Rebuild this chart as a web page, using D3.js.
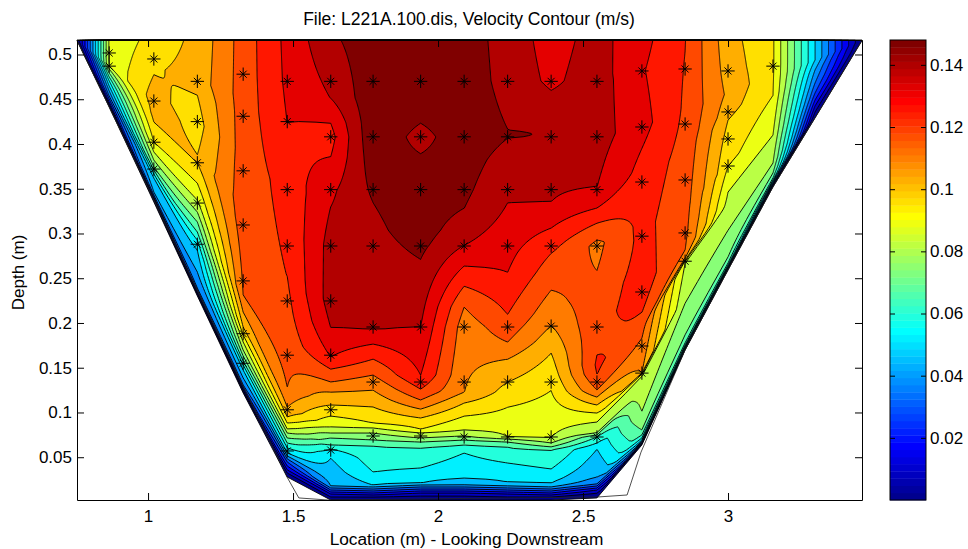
<!DOCTYPE html>
<html>
<head>
<meta charset="utf-8">
<script src="https://cdn.jsdelivr.net/npm/d3@7"></script>
<style>
html,body{margin:0;padding:0;background:#fff}
svg{display:block}
text{font-family:"Liberation Sans",Arial,sans-serif;fill:#000}
</style>
</head>
<body>
<svg id="c" width="968" height="549"></svg>
<script>
// ---------- data ----------
const chartTitle = "File: L221A.100.dis, Velocity Contour (m/s)";
const xLabel = "Location (m) - Looking Downstream";
const yLabel = "Depth (m)";
const xTicks = [1, 1.5, 2, 2.5, 3];
const yTicks = [0.05, 0.1, 0.15, 0.2, 0.25, 0.3, 0.35, 0.4, 0.45, 0.5];
const barTicks = [0.02, 0.04, 0.06, 0.08, 0.1, 0.12, 0.14];
const speedMax = 0.148;
const bandCount = 21;

const stationX = [0.755, 0.866, 1.02, 1.17, 1.328, 1.48, 1.63, 1.776, 1.94, 2.09, 2.24, 2.39, 2.548, 2.703, 2.852, 3.0, 3.155, 3.3, 3.462];

const stationDepth = [
 [.516,.5155],
 [.516,.4939,.4872,.4838,.4793,.4749,.4704,.4648,.4592,.4536,.4503,.4469,.4447,.443,.4413],
 [.516,.4939,.4771,.4492,.4324,.4246,.4022,.3911,.3821,.3743,.3709,.3665,.362,.3464,.343,.3408,.3397,.3385,.3374,.3352],
 [.516,.4704,.4548,.4246,.3877,.3832,.3788,.3564,.3374,.324,.3129,.3017,.2927,.2816,.257,.2391,.2369,.2352,.2335,.2319,.2302],
 [.516,.4313,.3698,.3095,.2469,.2313,.2123,.1955,.1866,.1788,.1698,.1631,.1575,.1531,.1475,.1386,.1307,.1285,.1268,.1252,.1235,.1218],
 [.516,.4704,.4246,.3486,.2536,.1922,.1285,.1062,.095,.0883,.0816,.0771,.0715,.0659,.0604,.0548,.0514,.0481,.0447,.0402,.0358,.0324,.0279],
 [.516,.4704,.4514,.4235,.4078,.3855,.3486,.3285,.286,.2246,.1955,.162,.1486,.1341,.1229,.1084,.0961,.0838,.0771,.0715,.0637,.0592,.0492,.0179,.0157,.0134,.0112,.009,.0056,.0022],
 [.516,.4078,.3352,.2704,.1933,.1765,.1598,.1419,.1251,.1062,.0883,.0827,.0771,.0693,.0626,.0335,.019,.0168,.0145,.0123,.0101,.0078,.0056,.0022],
 [.516,.4704,.4235,.4078,.3888,.3486,.3039,.2715,.1966,.1419,.1263,.114,.1039,.0939,.0816,.0771,.0715,.067,.0604,.038,.0212,.019,.0168,.0145,.0123,.0101,.0067,.0022],
 [.516,.4078,.3486,.3285,.2872,.2637,.2413,.2179,.1955,.1229,.1106,.0961,.0805,.0738,.0693,.0637,.0548,.0268,.019,.0168,.0145,.0123,.0101,.0067,.0022],
 [.516,.4704,.4156,.4112,.4067,.3821,.3352,.257,.2101,.1788,.1598,.1341,.1062,.0726,.0704,.067,.0614,.0436,.0223,.0179,.0157,.0134,.0112,.009,.0056,.0022],
 [.516,.4704,.4592,.4078,.3363,.3062,.2782,.2369,.1978,.1665,.1251,.0715,.066,.0615,.0581,.0369,.0212,.0168,.0145,.0123,.0101,.0078,.0056,.0022],
 [.516,.4704,.4078,.3531,.3285,.3117,.2927,.286,.2581,.2257,.181,.1631,.1531,.143,.1341,.1252,.1173,.1084,.0995,.0894,.0771,.0749,.0726,.0659,.0592,.0279,.0201,.0179,.0156,.0134,.01,.0045],
 [.516,.4816,.419,.3955,.3575,.2972,.2346,.2123,.1833,.1453,.1442,.143,.1408,.1017,.0805,.0749,.0715,.0693,.0682,.0671,.0659,.0648,.0637],
 [.516,.4838,.4223,.3598,.3006,.2816,.2726,.2704,.2693,.267,.2224,.1866,.1777,.1754,.1743,.1732,.172,.1709,.1698],
 [.516,.4816,.457,.4358,.4268,.4056,.3777,.3754,.3464,.3039,.2737,.267,.2648,.2637,.2626,.2615,.2603,.2592],
 [.516,.4872,.4548,.4101,.3788,.3676,.362,.3598,.3587,.3575,.3564,.3553,.3542,.352],
 [.516,.4939,.4827,.4682,.457,.4492,.4425,.4358,.4291],
 [.516,.5155]
];

const stationSpeed = [
 [0,0],
 [.0855,.0855,.0846,.0776,.0705,.0635,.0564,.0494,.0423,.0353,.0282,.0212,.0141,.0071,0],
 [.0946,.097,.0987,.1015,.1005,.0987,.0917,.0846,.0776,.0705,.0635,.0564,.0494,.0423,.0353,.0282,.0212,.0141,.0071,0],
 [.1005,.1015,.0987,.0956,.0987,.0995,.0987,.0917,.0846,.0776,.0705,.0635,.0564,.0494,.0423,.0353,.0282,.0212,.0141,.0071,0],
 [.1159,.116,.1165,.1165,.1135,.1128,.1058,.0987,.0917,.0846,.0776,.0705,.0635,.0564,.0494,.0423,.0353,.0282,.0212,.0141,.0071,0],
 [.1287,.1282,.1269,.122,.1199,.1165,.1128,.1058,.0987,.0917,.0846,.0776,.0705,.0635,.0564,.0494,.0423,.0353,.0282,.0212,.0141,.0071,0],
 [.1395,.1355,.134,.1269,.1245,.1269,.1325,.134,.1365,.137,.134,.1269,.1199,.1128,.1058,.0987,.0917,.0846,.0776,.0705,.0635,.0564,.0494,.0423,.0353,.0282,.0212,.0141,.0071,0],
 [.1455,.1465,.141,.1375,.134,.1269,.1199,.1128,.1058,.0987,.0917,.0846,.0776,.0705,.0635,.0564,.0494,.0423,.0353,.0282,.0212,.0141,.0071,0],
 [.148,.147,.141,.1385,.141,.146,.1445,.141,.134,.1269,.1199,.1128,.1058,.0987,.0917,.0846,.0776,.0705,.0635,.0564,.0494,.0423,.0353,.0282,.0212,.0141,.0071,0],
 [.1445,.1455,.1425,.141,.134,.1269,.1199,.1128,.109,.1058,.0987,.0917,.0846,.0776,.0705,.0635,.0564,.0494,.0423,.0353,.0282,.0212,.0141,.0071,0],
 [.138,.1385,.141,.1435,.141,.138,.134,.1269,.1199,.1128,.1058,.0987,.0917,.0846,.0776,.0705,.0635,.0564,.0494,.0423,.0353,.0282,.0212,.0141,.0071,0],
 [.131,.1325,.134,.1395,.134,.1269,.1199,.1128,.1058,.0987,.0917,.0846,.0776,.0705,.0635,.0564,.0494,.0423,.0353,.0282,.0212,.0141,.0071,0],
 [.1365,.1375,.137,.134,.1269,.1199,.1128,.1109,.1128,.1165,.1185,.1199,.1208,.1199,.1165,.1128,.1058,.0987,.0917,.0846,.0776,.0705,.0635,.0564,.0494,.0423,.0353,.0282,.0212,.0141,.0071,0],
 [.1292,.1275,.1295,.1269,.1235,.1215,.1225,.1199,.1128,.1058,.0987,.0917,.0846,.0776,.0705,.0635,.0564,.0494,.0423,.0353,.0212,.0071,0],
 [.12,.1195,.1185,.1165,.1145,.1128,.1058,.0987,.0917,.0846,.0776,.0705,.0635,.0564,.0494,.0423,.0282,.0141,0],
 [.1015,.103,.1045,.1015,.0987,.096,.093,.0917,.0846,.0776,.0705,.0635,.0564,.0494,.0353,.0212,.0071,0],
 [.0925,.0925,.0917,.0846,.0776,.0705,.0635,.0564,.0494,.0423,.0353,.0282,.0141,0],
 [.0494,.0494,.0423,.0353,.0282,.0212,.0141,.0071,0],
 [0,0]
];

// measurement points: one x per station, with the depths measured there
const pointX = [0.866, 1.02, 1.17, 1.328, 1.48, 1.63, 1.776, 1.94, 2.09, 2.24, 2.39, 2.548, 2.703, 2.852, 3.0, 3.155];
const pointDepth = [
 [.5017,.487],
 [.495,.448,.402,.372],
 [.47,.425,.379,.334,.288],
 [.478,.431,.37,.3095,.247,.188,.155],
 [.47,.425,.349,.286,.2246,.164,.103,.057],
 [.47,.408,.349,.286,.2246,.164,.103,.058],
 [.47,.408,.349,.286,.1955,.134,.0737],
 [.47,.408,.349,.286,.1955,.134,.0737],
 [.47,.408,.349,.286,.1955,.134,.0726],
 [.47,.408,.349,.286,.1955,.134,.0726],
 [.47,.408,.349,.286,.1965,.134,.0726],
 [.47,.408,.349,.286,.1955,.134,.0726],
 [.4816,.419,.3575,.297,.2346,.1743,.144],
 [.4838,.4223,.3598,.3006,.269],
 [.4816,.4358,.4056,.3754],
 [.487]
];

// surveyed channel outline
const outlineX = [0.755, 1.479, 1.52, 1.62, 2.552, 2.652, 2.7, 2.852, 3.0, 3.155, 3.462, 0.755];
const outlineDepth = [.516, .028, .0045, .0022, .0056, .0078, .0557, .1698, .2592, .352, .516, .516];

// ---------- layout ----------
const plot = {left: 77, right: 862, top: 40, bottom: 500};
const bar = {left: 890, right: 926};
const x = d3.scaleLinear().domain([0.755, 3.462]).range([plot.left, plot.right]);
const y = d3.scaleLinear().domain([0.0022, 0.5162]).range([plot.bottom, plot.top]);
const barY = d3.scaleLinear().domain([0, speedMax]).range([plot.bottom, plot.top]);
const jet = d3.scaleLinear()
  .domain([0, .111, .365, .619, .873, 1])
  .range(["#00008f", "#0000ff", "#00ffff", "#ffff00", "#ff0000", "#800000"]);

const svg = d3.select("#c");

// ---------- velocity field on a bed-following grid ----------
const rows = 420, cols = stationX.length;
const tops = stationDepth.map(d => d[0]);
const beds = stationDepth.map(d => d[d.length - 1]);
const field = new Float64Array(rows * cols);
stationX.forEach((_, j) => {
  const profile = d3.scaleLinear().domain(stationDepth[j]).range(stationSpeed[j]).clamp(true);
  for (let i = 0; i < rows; i++) {
    const s = i / (rows - 1);
    field[i * cols + j] = profile(tops[j] + s * (beds[j] - tops[j]));
  }
});
const colIndex = d3.range(cols);
const colToX = d3.scaleLinear().domain(colIndex).range(stationX);
const colToTop = d3.scaleLinear().domain(colIndex).range(tops);
const colToBed = d3.scaleLinear().domain(colIndex).range(beds);
const clampTo = (v, hi) => Math.max(0, Math.min(hi, v));
const gridPath = d3.geoPath(d3.geoTransform({
  point(c, r) {
    const cc = clampTo(c - 0.5, cols - 1), s = clampTo(r - 0.5, rows - 1) / (rows - 1);
    const depth = colToTop(cc) + s * (colToBed(cc) - colToTop(cc));
    this.stream.point(x(colToX(cc)), y(depth));
  }
}));
const levels = d3.range(bandCount).map(k => k * speedMax / bandCount);
const bands = d3.contours().size([cols, rows]).thresholds(levels)(field);

svg.append("g").selectAll("path").data(bands).join("path")
  .attr("d", gridPath)
  .attr("fill", (d, i) => jet(i / (bandCount - 1)))
  .attr("stroke", "#000")
  .attr("stroke-width", 0.9)
  .attr("stroke-linejoin", "miter");

// channel outline
svg.append("path")
  .attr("d", d3.line().x((d, i) => x(outlineX[i])).y((d, i) => y(outlineDepth[i]))(outlineX))
  .attr("fill", "none").attr("stroke", "#222").attr("stroke-width", 0.8);

// measurement stars
const points = pointX.flatMap((px, i) => pointDepth[i].map(d => ({px, d})));
const plus = d3.symbol().type(d3.symbolPlus).size(60);
const times = d3.symbol().type(d3.symbolTimes).size(34);
const stars = svg.append("g").selectAll("g").data(points).join("g")
  .attr("transform", d => `translate(${x(d.px)},${y(d.d)})`)
  .attr("fill", "none").attr("stroke", "#000").attr("stroke-width", 1);
stars.append("path").attr("d", plus());
stars.append("path").attr("d", times());

// ---------- axes ----------
const fmt = d => String(+d.toFixed(2));
const labelSize = 17;
function style(g) {
  g.select(".domain").attr("stroke", "#000").attr("stroke-width", 1);
  g.selectAll(".tick line").attr("stroke", "#000").attr("stroke-width", 1);
  g.selectAll(".tick text").attr("font-size", labelSize).attr("fill", "#000");
  g.attr("font-family", null);
}
const tickLen = 7;
svg.append("g").attr("transform", `translate(0,${plot.bottom})`)
  .call(d3.axisBottom(x).tickValues(xTicks).tickFormat(fmt).tickSizeInner(-tickLen).tickSizeOuter(0).tickPadding(10))
  .call(style);
svg.append("g").attr("transform", `translate(0,${plot.top})`)
  .call(d3.axisTop(x).tickValues(xTicks).tickFormat("").tickSizeInner(-tickLen).tickSizeOuter(0))
  .call(style);
svg.append("g").attr("transform", `translate(${plot.left},0)`)
  .call(d3.axisLeft(y).tickValues(yTicks).tickFormat(fmt).tickSizeInner(-tickLen).tickSizeOuter(0).tickPadding(5))
  .call(style);
svg.append("g").attr("transform", `translate(${plot.right},0)`)
  .call(d3.axisRight(y).tickValues(yTicks).tickFormat("").tickSizeInner(-tickLen).tickSizeOuter(0))
  .call(style);

// ---------- colour bar ----------
const barSteps = d3.range(64);
svg.append("g").selectAll("rect").data(barSteps).join("rect")
  .attr("x", bar.left).attr("width", bar.right - bar.left)
  .attr("y", i => barY((i + 1) / 64 * speedMax))
  .attr("height", i => barY(i / 64 * speedMax) - barY((i + 1) / 64 * speedMax) + 0.4)
  .attr("fill", i => jet(i / 63));
svg.append("rect").attr("x", bar.left).attr("y", plot.top)
  .attr("width", bar.right - bar.left).attr("height", plot.bottom - plot.top)
  .attr("fill", "none").attr("stroke", "#000");
svg.append("g").attr("transform", `translate(${bar.right},0)`)
  .call(d3.axisRight(barY).tickValues(barTicks).tickFormat(fmt).tickSizeInner(-5).tickSizeOuter(0).tickPadding(4))
  .call(style).call(g => g.select(".domain").remove());
svg.append("g").attr("transform", `translate(${bar.left},0)`)
  .call(d3.axisLeft(barY).tickValues(barTicks).tickFormat("").tickSizeInner(-5).tickSizeOuter(0))
  .call(style).call(g => g.select(".domain").remove());

// ---------- titles ----------
svg.append("text").attr("x", 469).attr("y", 25).attr("text-anchor", "middle").attr("font-size", 17.5).text(chartTitle);
svg.append("text").attr("x", 466.5).attr("y", 545).attr("text-anchor", "middle").attr("font-size", 17.3).text(xLabel);
svg.append("text").attr("transform", "translate(23.5,272.5) rotate(-90)").attr("text-anchor", "middle").attr("font-size", labelSize).text(yLabel);
</script>
</body>
</html>
